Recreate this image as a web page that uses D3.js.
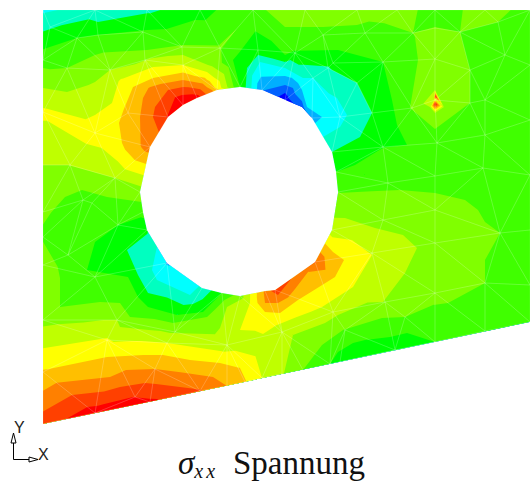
<!DOCTYPE html>
<html>
<head>
<meta charset="utf-8">
<script src="https://cdn.jsdelivr.net/npm/d3@7"></script>
<style>
html, body { margin: 0; padding: 0; background: #fff; }
svg { display: block; }
</style>
</head>
<body>
<div id="chart-area"></div>
<script>
// nodes are [x, y, stress level] in plate coordinates, top left corner of the plate is 0,0
var edgeNodes = [
    [0,0,3.3],[52,0,4.0],[104,0,4.3],[157,0,5.1],[210,0,6.4],[262,0,6.8],[314,0,6.9],[354,0,7.1],[392,0,6.0],[442,0,6.9],[487,0,6.2],
    [487,55,6],[487,110,6],[487,165,6],[487,220,6],[487,275,6],[487,312,6],
    [442,321,5.9],[392,332,5.5],[352,340,5.0],[297,352,5.3],[287,354,5.5],[260,360,6.5],[239,364,7.6],[219,368,8.5],[202,372,9.6],[184,376,10.5],[157,381,11.6],[107,392,12.7],[52,403,13.0],[0,414,12.1],
    [0,362,9.6],[0,310,7.2],[0,255,7.0],[0,227,6.4],[0,202,6.6],[0,155,7.5],[0,102,8.7],[0,50,6.1]
];
var holeNodes = [
    [197,77,5.5],[219,80,1.6],[242,90,0],[269,108,2.3],[289,142,4.5],[293,162,5.5],[295,182,6.5],[289,220,8.0],[272,252,11.6],[232,280,12.2],[222,281,10.7],
    [197,286,7.0],[179,283,5.5],[159,278,3.6],[124,253,2.4],[104,220,4.6],[100,202,6.0],[97,182,7.0],[107,137,11],[125,107,12.6],[140,95,13.6],[154,88,13],[174,80,10]
];
var hotTopNodes = [
    [140,35,6.5],[140,55,8.5],[140,70,10.5],[140,77,11.5],[139,85,12.5],[164,85,11.5],[169,80,10.5],[172,78,9.5],
    [107,78,10.6],[125,80,11.5],[112,97,11.5],[110,107,11.5],[117,125,11.5],[97,107,10.5],[100,88,10.5],[85,103,9.9],[76,113,9.5],[79,133,9.5],[90,77,9.5],
    [79,70,8.6],[77,140,9.2],[110,57,8.5],[110,68,9.5],
    [164,62,8.5],[170,55,7.3],[177,38,6.6],[52,123,9.0],[52,80,7.8],[67,60,7.5],[104,40,6.5],[52,45,6.5],[54,25,5.5],[104,20,5.5],[24,58,6.5],[34,28,5.5],[55,12,4.5],[24,82,7.5],[69,93,8.5],
    [25,155,7.5],[72,168,7.5],[39,180,6.5],[64,187,6.5],[22,187,6.5],[49,205,6.0]
];
var coldLowerNodes = [
    [52,232,5.5],[75,215,5.5],[44,260,5.5],[44,273,5.5],[85,267,5.5],[95,287,5.5],[105,297,5.5],[134,305,5.5],[160,302,5.5],
    [84,240,4.5],[94,218,4.5],[95,265,4.5],[105,283,4.5],[150,294,4.5],[109,260,3.5],[114,270,3.5],[147,285,3.5]
];
var hotBottomNodes = [
    [17,268,6.5],[17,297,6.5],[57,292,6.5],[77,293,6.5],[87,307,6.5],[130,313,6.5],[164,307,6.5],
    [74,310,7.5],[77,317,7.5],[130,323,7.5],[177,318,7.5],[184,297,7.5],
    [64,328,8.5],[124,333,8.5],[179,340,8.4],[214,345,8.4],
    [64,347,9.5],[120,345,9.5],[177,353,9.5],[197,358,9.5],
    [67,367,10.5],[112,359,10.5],[170,367,10.5],
    [77,377,11.5],[102,373,11.5],
    [90,387,12.5],[114,389,12.5],
    [290,242,9.5],[301,250,9.5],[292,267,9.5],[255,290,9.5],[237,303,9.5],[222,302,9.5],
    [309,230,8.5],[329,245,8.5],[310,277,8.5],[279,297,8.5],[239,313,8.5],[197,320,8.5],[207,293,8.5],
    [207,330,8.0],[219,335,8.0],[239,322,8.0],[190,332,8.0],
    [302,208,7.5],[332,218,7.5],[360,225,7.5],[374,238,7.5],[362,263,7.5],[340,292,7.5],[295,305,7.5],[282,313,7.5],[250,325,7.5],
    [265,262,10.5],[235,293,10.5],[222,293,10.5],[249,268,11.5],[235,285,11.5]
];
var rightNodes = [
    [295,183,6.5],[357,180,6.5],[392,183,6.5],[422,190,6.5],[435,200,6.5],[442,212,6.5],[457,223,6.5],[442,273,6.5],[405,293,6.5],[390,295,6.5],[362,307,6.5],[339,308,6.5],[300,320,6.5],[279,335,6.5],
    [295,342,5.5],[310,333,5.5],[322,330,5.5],[347,327,5.5],[364,323,5.5],
    [397,235,7.0],[337,200,7.2],[417,250,7.0],[393,155,6.1],[377,150,6.1],[444,170,6.2],[437,135,6.1],[467,250,6.0],[322,165,5.9],
    [280,17,6.5],[314,15,6.5],[242,17,6.5],[335,20,6.2],[370,23,6.5],[455,12,6.5],
    [375,50,6.5],[372,27,6.5],[392,17,6.5],[417,22,6.5],[427,60,6.5],[427,93,6.5],[392,119,6.5],[367,98,6.5],
    [392,50,7.0],[387,97,7.5],[392,80,7.5],[401,97,7.5],[392,103,7.5],[391,90,8.3],[393.5,90,8.3],[392.3,86,12.8],[392.3,94,12.8],
    [357,50,6.0],[447,50,6.1],[447,95,6.1]
];
var coldTopNodes = [
    [242,52,4.5],[242,45,5.5],[242,58,3.5],[242,66,2.5],[242,75,1.5],[242,83,0.5],
    [252,43,5.4],[290,53,4.8],[340,52,5.5],[329,103,4.5],[285,88,3.3],[294,88,3.5],[304,105,3.5],[314,73,4.5],[297,117,3.5],[280,127,3.5],[317,127,4.5],[312,155,5.5],
    [260,68,3.5],[270,68,3.5],[249,68,2.5],[259,80,2.5],[264,97,2.5],[279,107,2.5],[270,115,2.5],[259,97,1.0],[250,78,1.5],
    [341,133,5.4],[364,135,5.5],[354,115,5.5],[349,90,5.5],[295,40,5.5],[204,58,4.5],[217,52,3.5],[190,50,5.5],[215,45,4.5]
];
// the drawn element mesh, a coarser set of nodes than the contour values above
var meshNodes = [
    [7,17],[34,28],[55,25],[100,22],[139,37],[177,38],[215,40],[24,58],[67,60],[102,50],[140,55],[52,123],[85,103],[27,155],[72,168],[40,190],
    [280,25],[322,23],[370,23],[392,18],[417,22],[455,12],[252,43],[290,53],[340,52],[392,49],[427,60],[462,45],[329,103],[369,98],[392,90],[427,93],[442,90],[340,137],[394,133],[442,125],[345,173],[392,166],[440,158],[297,107],[314,73],[285,58],[270,68],
    [340,210],[392,200],[457,223],[392,233],[329,243],[442,273],[392,283],[342,292],[290,302],[239,322],[302,320],[362,307],[392,332],[442,322],
    [49,193],[25,245],[52,267],[75,215],[64,330],[124,333],[184,335],[74,310],[132,322],[92,387],[112,359]
];
var plateX = [0, 487, 487, 0];
var plateY = [0, 0, 312, 414];
var levelStops = [0.5,1.5,2.5,3.5,4.5,5.5,6.5,7.5,8.5,9.5,10.5,11.5,12.5];
var levelColors = ["#0000ff","#0060ff","#00b0ff","#00ffff","#00ffc0","#00ff00","#40ff00","#80ff00","#bfff00","#ffff00","#ffbf00","#ff8000","#ff4000","#ff0000"];
var titleSymbol = "\u03c3", titleIndex = "xx", titleWord = "Spannung";
var axisLabels = ["X", "Y"];

var width = 530, height = 486;
var svg = d3.select("#chart-area").append("svg")
    .attr("width", width)
    .attr("height", height);

var x = d3.scaleLinear().domain([0, 487]).range([43, 530]);
var y = d3.scaleLinear().domain([0, 414]).range([10, 424]);
var color = d3.scaleThreshold().domain(levelStops).range(levelColors);

var nodes = edgeNodes.concat(holeNodes, hotTopNodes, coldLowerNodes, hotBottomNodes, rightNodes, coldTopNodes)
    .map((d) => { return { px: x(d[0]), py: y(d[1]), v: d[2] }; });
var holePoly = holeNodes.map((d) => { return [x(d[0]), y(d[1])]; });
var platePoly = plateX.map((d, i) => { return [x(d), y(plateY[i])]; });

svg.append("clipPath").attr("id", "plate")
    .append("polygon").attr("points", platePoly.join(" "));
var g = svg.append("g").attr("clip-path", "url(#plate)");

function triangulate(points) {
    var del = d3.Delaunay.from(points), tris = [];
    for (var i = 0; i < del.triangles.length; i += 3) {
        var a = del.triangles[i], b = del.triangles[i + 1], c = del.triangles[i + 2];
        var cx = (points[a][0] + points[b][0] + points[c][0]) / 3;
        var cy = (points[a][1] + points[b][1] + points[c][1]) / 3;
        if (!d3.polygonContains(holePoly, [cx, cy])) tris.push([a, b, c]);
    }
    return tris;
}

var tris = triangulate(nodes.map((n) => { return [n.px, n.py]; }));

// part of a triangle where the value is at or above the level
function clipTriangle(tri, level) {
    var out = [];
    for (var i = 0; i < 3; i++) {
        var p = nodes[tri[i]], q = nodes[tri[(i + 1) % 3]];
        if (p.v >= level) out.push([p.px, p.py]);
        if ((p.v >= level) !== (q.v >= level)) {
            var t = (level - p.v) / (q.v - p.v);
            out.push([p.px + t * (q.px - p.px), p.py + t * (q.py - p.py)]);
        }
    }
    return out;
}

// bands painted from low to high, each one over the last
[-Infinity].concat(levelStops).forEach((level) => {
    var path = d3.path();
    tris.forEach((tri) => {
        var poly = clipTriangle(tri, level);
        if (poly.length < 3) return;
        poly.forEach((p, i) => { if (i == 0) path.moveTo(p[0], p[1]); else path.lineTo(p[0], p[1]); });
        path.closePath();
    });
    g.append("path")
        .attr("d", path.toString())
        .attr("fill", color(level == -Infinity ? 0 : level));
});

// mesh lines
var meshPoints = edgeNodes.concat(holeNodes, meshNodes).map((d) => { return [x(d[0]), y(d[1])]; });
var meshPath = d3.path();
triangulate(meshPoints).forEach((tri) => {
    meshPath.moveTo(meshPoints[tri[0]][0], meshPoints[tri[0]][1]);
    meshPath.lineTo(meshPoints[tri[1]][0], meshPoints[tri[1]][1]);
    meshPath.lineTo(meshPoints[tri[2]][0], meshPoints[tri[2]][1]);
    meshPath.closePath();
});
g.append("path")
    .attr("d", meshPath.toString())
    .attr("fill", "none")
    .attr("stroke", "#fff")
    .attr("stroke-opacity", 0.16)
    .attr("stroke-width", 0.7);

svg.append("polygon")
    .attr("points", holePoly.join(" "))
    .attr("fill", "#fff");

// triad
var triad = svg.append("g").attr("fill", "none").attr("stroke", "#000").attr("stroke-width", 1);
triad.append("path").attr("d", "M13.5,459.5V443M13.5,459.5H29");
triad.append("path").attr("d", "M13.5,433L11,443H16Z");
triad.append("path").attr("d", "M38,459.5L29,457V462Z");
svg.append("text").attr("x", 38).attr("y", 460).attr("font-family", "'Liberation Sans'").attr("font-size", "16px").attr("fill", "#222").text(axisLabels[0]);
svg.append("text").attr("x", 14).attr("y", 433).attr("font-family", "'Liberation Sans'").attr("font-size", "16px").attr("fill", "#222").text(axisLabels[1]);

// title
var title = svg.append("text")
    .attr("x", 178)
    .attr("y", 474)
    .attr("font-family", "'Liberation Serif'")
    .attr("font-size", "33px")
    .attr("fill", "#111");
title.append("tspan").attr("font-style", "italic").text(titleSymbol);
title.append("tspan").attr("font-style", "italic").attr("font-size", "20px").attr("letter-spacing", "3px").attr("dy", 4).text(titleIndex);
title.append("tspan").attr("x", 233).attr("dy", -4).text(titleWord);
</script>
</body>
</html>
